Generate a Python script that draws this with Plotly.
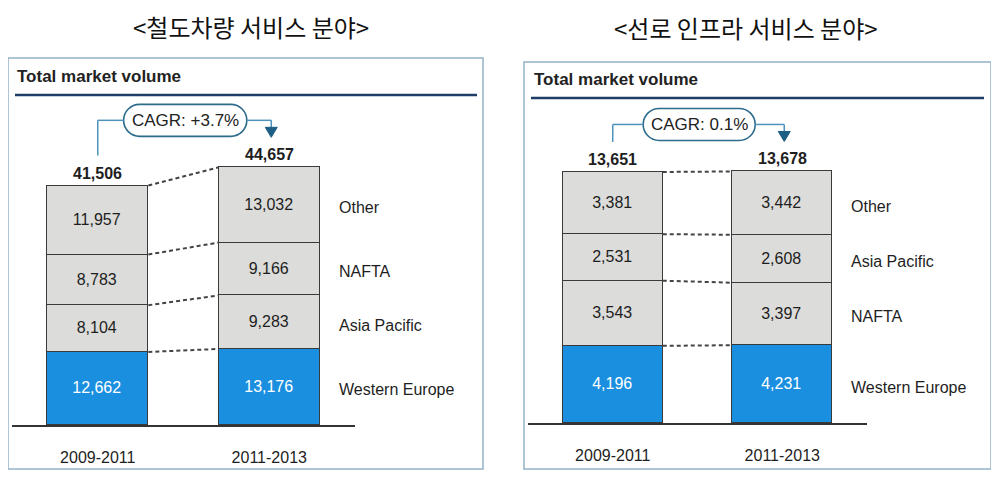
import plotly.graph_objects as go

# ---------------- data ----------------
categories = ["2009-2011", "2011-2013"]

# Panel 1: 철도차량 서비스 분야 (stack order bottom -> top)
rail_segments = ["Western Europe", "Asia Pacific", "NAFTA", "Other"]
rail_western_europe = [12662, 13176]
rail_asia_pacific = [8104, 9283]
rail_nafta = [8783, 9166]
rail_other = [11957, 13032]
rail_totals = [41506, 44657]
rail_cagr = "CAGR: +3.7%"

# Panel 2: 선로 인프라 서비스 분야 (stack order bottom -> top)
infra_segments = ["Western Europe", "NAFTA", "Asia Pacific", "Other"]
infra_western_europe = [4196, 4231]
infra_nafta = [3543, 3397]
infra_asia_pacific = [2531, 2608]
infra_other = [3381, 3442]
infra_totals = [13651, 13678]
infra_cagr = "CAGR: 0.1%"

# ---------------- style / layout ----------------
# page body has an 8px margin; figure fills the rest of the 999x479 window
OX, OY = 8, 8
W, H = 999 - OX, 479 - OY
FONT = "Liberation Sans, Arial, Helvetica, sans-serif"
BLUE = "#1a8fe0"
GRAY = "#dcdcda"
EDGE = "#3a3a3a"
BAR_W = 0.59

panels = [
    dict(title="&lt;철도차량 서비스 분야&gt;", segs=rail_segments,
         vals=[rail_western_europe, rail_asia_pacific, rail_nafta, rail_other],
         totals=rail_totals, cagr=rail_cagr,
         xl=12, xr=355, yb=425, yt=100, scale=0.00577,
         title_xy=(251, 27), box=(8, 58, 483, 469), hdr=(15, 77), rule=(15, 477, 95)),
    dict(title="&lt;선로 인프라 서비스 분야&gt;", segs=infra_segments,
         vals=[infra_western_europe, infra_nafta, infra_asia_pacific, infra_other],
         totals=infra_totals, cagr=infra_cagr,
         xl=528, xr=867, yb=423, yt=100, scale=0.01839,
         title_xy=(746, 28), box=(524, 62, 991, 469), hdr=(532, 80), rule=(531, 984, 98)),
]


def paper(xp, yp):
    return (xp - OX) / W, 1 - (yp - OY) / H


fig = go.Figure()
shapes = []
annotations = []
layout_axes = {}

for i, p in enumerate(panels):
    xa = "x" if i == 0 else "x2"
    ya = "y" if i == 0 else "y2"
    xl, xr, yb, yt, sc = p["xl"], p["xr"], p["yb"], p["yt"], p["scale"]

    def to_px(dx, dy, xl=xl, xr=xr, yb=yb, sc=sc):
        return xl + (dx + 0.5) * (xr - xl) / 2.0, yb - dy * sc

    # bars
    for seg, vals in zip(p["segs"], p["vals"]):
        is_we = seg == "Western Europe"
        fig.add_trace(go.Bar(
            x=[0, 1], y=vals, width=BAR_W, name=seg,
            marker=dict(color=BLUE if is_we else GRAY, line=dict(color=EDGE, width=1.5)),
            texttemplate="%{y:,}", textposition="inside", insidetextanchor="middle",
            textangle=0,
            textfont=dict(family=FONT, size=16, color="#ffffff" if is_we else "#1e1e1e"),
            xaxis=xa, yaxis=ya, showlegend=False, hoverinfo="skip",
        ))

    # dashed connectors between segment boundaries
    cum0, cum1 = 0, 0
    for vals in p["vals"]:
        cum0 += vals[0]
        cum1 += vals[1]
        fig.add_trace(go.Scatter(
            x=[BAR_W / 2, 1 - BAR_W / 2], y=[cum0, cum1], mode="lines",
            line=dict(color="#444444", width=2, dash="4px,3px"),
            xaxis=xa, yaxis=ya, showlegend=False, hoverinfo="skip",
        ))

    # segment labels to the right of the second bar
    cum = 0
    for seg, vals in zip(p["segs"], p["vals"]):
        mid = cum + vals[1] / 2
        cum += vals[1]
        annotations.append(dict(
            x=1 + BAR_W / 2, y=mid, xref=xa, yref=ya, xanchor="left", yanchor="middle",
            xshift=17, yshift=-3, text=seg, showarrow=False,
            font=dict(family=FONT, size=16, color="#1e1e1e"),
        ))

    # totals
    for c, t in enumerate(p["totals"]):
        annotations.append(dict(
            x=c, y=t, xref=xa, yref=ya, xanchor="center", yanchor="bottom", yshift=2,
            text=f"<b>{t:,}</b>", showarrow=False,
            font=dict(family=FONT, size=16, color="#1e1e1e"),
        ))

    # axes
    sfx = "" if i == 0 else "2"
    dx0, dy0 = paper(xl, yb)
    dx1, dy1 = paper(xr, yt)
    layout_axes["xaxis" + sfx] = dict(
        domain=[dx0, dx1], range=[-0.5, 1.5], tickvals=[0, 1], ticktext=categories,
        showline=True, linecolor="#333333", linewidth=1.5, showgrid=False, zeroline=False,
        ticks="", ticklabelstandoff=17, anchor=ya,
        tickfont=dict(family=FONT, size=16, color="#1e1e1e"), fixedrange=True,
    )
    layout_axes["yaxis" + sfx] = dict(
        domain=[dy0, dy1], range=[0, (yb - yt) / sc], visible=False,
        anchor=xa, fixedrange=True,
    )

    # CAGR bubble + connectors
    t0, t1 = p["totals"]
    x0p, top0 = to_px(0, t0)
    x1p, top1 = to_px(1, t1)
    x1p += 2
    _, topmax = to_px(0, max(p["totals"]))
    cy = topmax - 47
    cxp, _ = to_px(0.51, 0)
    hw = len(p["cagr"]) * 5.6
    hh = 16
    r = hh
    k = 0.5523
    bx0, bx1 = cxp - hw, cxp + hw
    path_px = [
        ("M", [(bx0 + r, cy - hh)]),
        ("L", [(bx1 - r, cy - hh)]),
        ("C", [(bx1 - r + k * r, cy - hh), (bx1, cy - k * r), (bx1, cy)]),
        ("C", [(bx1, cy + k * r), (bx1 - r + k * r, cy + hh), (bx1 - r, cy + hh)]),
        ("L", [(bx0 + r, cy + hh)]),
        ("C", [(bx0 + r - k * r, cy + hh), (bx0, cy + k * r), (bx0, cy)]),
        ("C", [(bx0, cy - k * r), (bx0 + r - k * r, cy - hh), (bx0 + r, cy - hh)]),
    ]
    path = ""
    for cmd, plist in path_px:
        path += cmd + " " + " ".join("%.5f,%.5f" % paper(a, b) for a, b in plist) + " "
    path += "Z"
    shapes.append(dict(type="path", path=path, xref="paper", yref="paper",
                       line=dict(color="#2c6b8c", width=1.6), fillcolor="rgba(255,255,255,1)"))
    annotations.append(dict(
        x=paper(cxp, cy)[0], y=paper(cxp, cy)[1], xref="paper", yref="paper",
        xanchor="center", yanchor="middle", text=p["cagr"], showarrow=False,
        font=dict(family=FONT, size=17, color="#222222"),
    ))
    CONN = "#4f93bd"
    a = paper(x0p, top0 - 30); b = paper(x0p, cy)
    shapes.append(dict(type="line", xref="paper", yref="paper", x0=a[0], y0=a[1], x1=b[0], y1=b[1],
                       line=dict(color=CONN, width=1.5)))
    a = paper(x0p, cy); b = paper(bx0, cy)
    shapes.append(dict(type="line", xref="paper", yref="paper", x0=a[0], y0=a[1], x1=b[0], y1=b[1],
                       line=dict(color=CONN, width=1.5)))
    a = paper(bx1, cy); b = paper(x1p, cy)
    shapes.append(dict(type="line", xref="paper", yref="paper", x0=a[0], y0=a[1], x1=b[0], y1=b[1],
                       line=dict(color=CONN, width=1.5)))
    tip = top1 - 30
    a = paper(x1p, cy); b = paper(x1p, tip - 9)
    shapes.append(dict(type="line", xref="paper", yref="paper", x0=a[0], y0=a[1], x1=b[0], y1=b[1],
                       line=dict(color=CONN, width=1.5)))
    tri = [(x1p - 6, tip - 10), (x1p + 6, tip - 10), (x1p, tip)]
    tpath = "M " + " L ".join("%.5f,%.5f" % paper(a_, b_) for a_, b_ in tri) + " Z"
    shapes.append(dict(type="path", path=tpath, xref="paper", yref="paper",
                       line=dict(color="#1d5e85", width=1), fillcolor="#1d5e85"))

    # panel frame, header, rule, title
    bx = p["box"]
    a = paper(bx[0], bx[1]); b = paper(bx[2], bx[3])
    shapes.append(dict(type="rect", xref="paper", yref="paper", x0=a[0], y0=a[1], x1=b[0], y1=b[1],
                       line=dict(color="#93b2c8", width=1.5), layer="below"))
    ru = p["rule"]
    a = paper(ru[0], ru[2]); b = paper(ru[1], ru[2])
    shapes.append(dict(type="line", xref="paper", yref="paper", x0=a[0], y0=a[1], x1=b[0], y1=b[1],
                       line=dict(color="#1f3d66", width=2.5)))
    hx, hy = paper(*p["hdr"])
    annotations.append(dict(
        x=hx, y=hy, xref="paper", yref="paper", xanchor="left", yanchor="middle",
        text="<b>Total market volume</b>", showarrow=False,
        font=dict(family=FONT, size=17, color="#222222"),
    ))
    tx, ty = paper(*p["title_xy"])
    annotations.append(dict(
        x=tx, y=ty, xref="paper", yref="paper", xanchor="center", yanchor="middle",
        text=p["title"], showarrow=False,
        font=dict(family="Noto Sans CJK KR, sans-serif", size=24, color="#111111"),
    ))

fig.update_layout(
    width=W, height=H, margin=dict(l=0, r=0, t=0, b=0),
    paper_bgcolor="white", plot_bgcolor="rgba(0,0,0,0)",
    barmode="stack", bargap=0, showlegend=False,
    shapes=shapes, annotations=annotations,
    **layout_axes,
)

fig.write_html("out.html")
